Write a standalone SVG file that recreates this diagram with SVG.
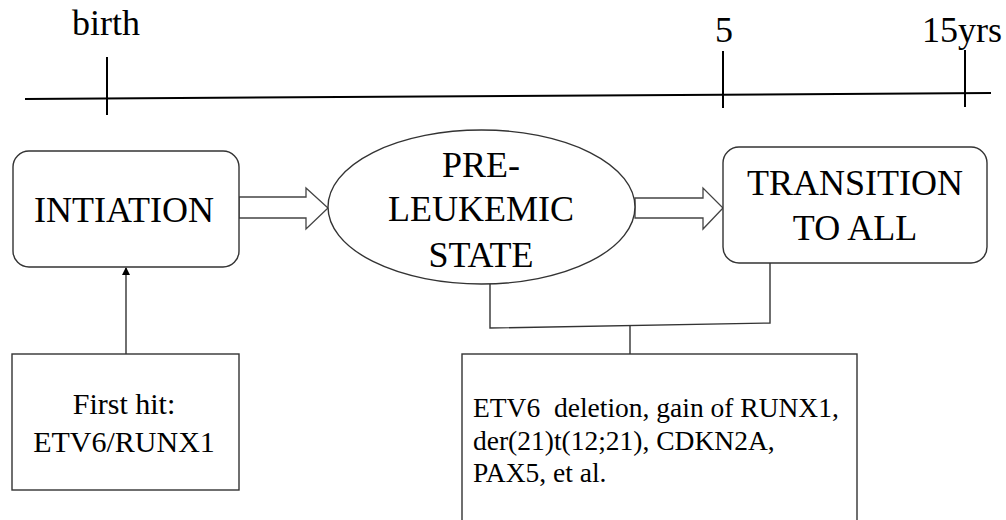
<svg xmlns="http://www.w3.org/2000/svg" width="1006" height="520" viewBox="0 0 1006 520">
<defs>
<style>
text{font-family:"Times New Roman","Liberation Serif",serif;fill:#000}
.big{font-size:36px}
.mid{font-size:30px}
.sm{font-size:27.5px}
.shape{fill:#fff;stroke:#333;stroke-width:1.4}
.line{fill:none;stroke:#333;stroke-width:1.4}
.axis{fill:none;stroke:#000;stroke-width:2}
.hollow{fill:#fff;stroke:#444;stroke-width:1.3}
</style>
<marker id="tri" markerWidth="8" markerHeight="8" refX="7" refY="4" orient="auto" markerUnits="userSpaceOnUse">
<path d="M0,0 L8,4 L0,8 Z" fill="#000"/>
</marker>
</defs>
<rect width="1006" height="520" fill="#fff"/>
<g id="timeline">
<line class="axis" x1="25" y1="99" x2="991" y2="93"/>
<line class="axis" x1="107" y1="57" x2="107" y2="115"/>
<line class="axis" x1="723" y1="51" x2="723" y2="108"/>
<line class="axis" x1="965" y1="50" x2="965" y2="107"/>
<text class="big" x="106" y="35" text-anchor="middle">birth</text>
<text class="big" x="724" y="42" text-anchor="middle">5</text>
<text class="big" x="962" y="42" text-anchor="middle">15yrs</text>
</g>
<g id="connectors">
<path class="hollow" d="M239,197 L306,197 L306,188 L328,208 L306,229 L306,218 L239,218 Z"/>
<path class="hollow" d="M635,198 L703,198 L703,188 L723,208 L703,229 L703,218 L635,218 Z"/>
<line class="line" x1="126" y1="354" x2="126" y2="268" marker-end="url(#tri)"/>
<polyline class="line" points="490,284 490,328 770,323 770,263"/>
<line class="line" x1="630" y1="326" x2="630" y2="354"/>
</g>
<g id="initiation">
<rect class="shape" x="13" y="151" width="226" height="116" rx="16"/>
<text class="big" x="124" y="222" text-anchor="middle">INTIATION</text>
</g>
<g id="preleukemic">
<ellipse class="shape" cx="481.5" cy="207" rx="153.5" ry="77"/>
<text class="big" x="481" y="177" text-anchor="middle">PRE-</text>
<text class="big" x="481" y="221" text-anchor="middle">LEUKEMIC</text>
<text class="big" x="481" y="267" text-anchor="middle">STATE</text>
</g>
<g id="transition">
<rect class="shape" x="723" y="147" width="264" height="116" rx="16"/>
<text class="big" x="855" y="195" text-anchor="middle">TRANSITION</text>
<text class="big" x="855" y="240" text-anchor="middle">TO ALL</text>
</g>
<g id="firsthit">
<rect class="shape" x="12" y="354" width="227" height="136"/>
<text class="mid" x="124" y="414" text-anchor="middle">First hit:</text>
<text class="mid" x="124" y="452" text-anchor="middle">ETV6/RUNX1</text>
</g>
<g id="secondhits">
<rect class="shape" x="462" y="354" width="395" height="175"/>
<text class="sm" x="473" y="417" xml:space="preserve">ETV6  deletion, gain of RUNX1,</text>
<text class="sm" x="473" y="450">der(21)t(12;21), CDKN2A,</text>
<text class="sm" x="473" y="482">PAX5, et al.</text>
</g>
</svg>
